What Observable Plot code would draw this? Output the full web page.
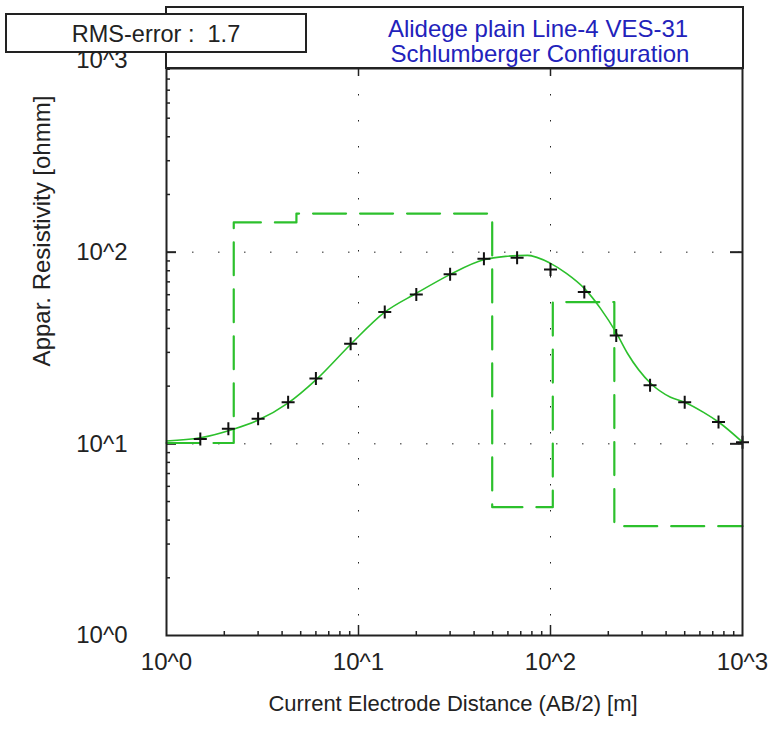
<!DOCTYPE html>
<html>
<head>
<meta charset="utf-8">
<script src="https://cdn.jsdelivr.net/npm/d3@7"></script>
<script src="https://cdn.jsdelivr.net/npm/@observablehq/plot@0.6"></script>
<style>
  html, body { margin: 0; padding: 0; background: #ffffff; }
  #wrap { position: relative; width: 768px; height: 740px; overflow: hidden; font-family: "Liberation Sans", Arial, sans-serif; color: #222; }
  #chart { position: absolute; left: 0; top: 0; }
  .box { position: absolute; box-sizing: border-box; border: 2px solid #222; background: #fff; }
  .txt { position: absolute; white-space: pre; text-align: center; line-height: 1; }
</style>
</head>
<body>
<div id="wrap">
  <div id="chart"></div>
  <div class="box" style="left:165px; top:6px; width:579px; height:63px; z-index:2;"></div>
  <div class="txt" style="left:338px; width:400px; top:17px; font-size:24px; color:#2222bb; z-index:3;">Alidege plain Line-4 VES-31</div>
  <div class="txt" style="left:340px; width:400px; top:42px; font-size:24px; color:#2222bb; z-index:3;">Schlumberger Configuration</div>
  <div class="box" style="left:5px; top:13px; width:302px; height:40px; z-index:4;"></div>
  <div class="txt" style="left:5px; width:302px; top:23px; font-size:23.5px; z-index:5;">RMS-error :  1.7</div>
  <div class="txt" style="left:153px; width:600px; top:693px; font-size:22px;">Current Electrode Distance (AB/2) [m]</div>
  <div class="txt" style="left:-158px; width:400px; top:219px; font-size:24px; transform: rotate(-90deg);">Appar. Resistivity [ohmm]</div>
</div>
<script>
// measured apparent resistivity (AB/2 in m, rho_a in ohm-m)
const abHalf = [1.5, 2.1, 3.0, 4.3, 6.0, 9.1, 13.7, 20, 30, 45, 67, 100, 150, 220, 330, 500, 750, 1000];
const rhoMeasured = [10.6, 12.0, 13.5, 16.5, 21.9, 33.3, 48.7, 60.2, 76.6, 92.5, 93.6, 81.1, 61.9, 36.8, 20.2, 16.5, 13.0, 10.2];

// calculated (fitted) curve
const fitX = [1, 1.5, 2.23, 3.01, 4.27, 6.04, 9.09, 13.65, 20.0, 30.1, 44.8, 58.3, 75.9, 100, 121, 150, 182, 221, 252, 332, 422, 499, 627, 750, 1000];
const fitY = [10.35, 10.76, 11.93, 13.3, 16.25, 21.7, 33.0, 48.5, 61.0, 76.6, 91.2, 95.1, 96.2, 87.4, 77.5, 64.7, 50.9, 37.7, 29.6, 20.7, 17.5, 16.5, 14.6, 13.0, 10.2];

// layered model: depth of layer top (m) and resistivity (ohm-m)
const layerDepth = [1, 2.24, 4.75, 49.7, 102.8, 215, 1000];
const layerRho = [10.1, 143, 159, 4.67, 54.9, 3.72, 3.72];

// axis ticks
const decadeTicks = [1, 10, 100, 1000];
const majorInner = [10, 100];
const minorTicks = [2,3,4,5,6,7,8,9,20,30,40,50,60,70,80,90,200,300,400,500,600,700,800,900];
const tickLabel = d => "10^" + Math.round(Math.log10(d));

const measured = abHalf.map((x, i) => ({x, y: rhoMeasured[i]}));
const fit = fitX.map((x, i) => ({x, y: fitY[i]}));
const model = layerDepth.map((x, i) => ({x, y: layerRho[i]}));

const W = 768, H = 740, mL = 166, mR = 26, mT = 60, mB = 105;
const iw = W - mL - mR, ih = H - mT - mB;
const hidden = 8; // top strip covered by header box
const ink = "#222";
const green = "#2cc02c";

const cross = {
  draw(context, size) {
    const r = Math.sqrt(size / Math.PI);
    context.moveTo(-r, 0); context.lineTo(r, 0);
    context.moveTo(0, -r); context.lineTo(0, r);
  }
};

const chart = Plot.plot({
  width: W, height: H,
  marginLeft: mL, marginRight: mR, marginTop: mT, marginBottom: mB,
  style: {fontFamily: "'Liberation Sans', Arial, sans-serif", fontSize: "24px", color: ink, background: "#fff"},
  x: {type: "log", domain: [1, 1000]},
  y: {type: "log", domain: [1, 1000]},
  marks: [
    Plot.frame({fill: "#fff", insetTop: hidden}),
    // dotted grid
    Plot.ruleX(majorInner, {x: d => d, stroke: ink, strokeDasharray: "1.5,24.5", insetTop: hidden}),
    Plot.ruleY(majorInner, {y: d => d, stroke: ink, strokeDasharray: "1.5,24.5"}),
    // ticks
    Plot.ruleX(minorTicks, {x: d => d, stroke: ink, strokeWidth: 1.5, insetTop: ih - 4}),
    Plot.ruleX(majorInner, {x: d => d, stroke: ink, strokeWidth: 1.5, insetTop: ih - 10}),
    Plot.ruleX(majorInner, {x: d => d, stroke: ink, strokeWidth: 1.5, insetTop: hidden, insetBottom: ih - hidden - 8}),
    Plot.ruleY(minorTicks, {y: d => d, stroke: ink, strokeWidth: 1.5, insetRight: iw - 4}),
    Plot.ruleY(majorInner, {y: d => d, stroke: ink, strokeWidth: 2, insetRight: iw - 10}),
    Plot.ruleY(majorInner, {y: d => d, stroke: ink, strokeWidth: 2, insetLeft: iw - 12}),
    // model and fit
    Plot.line(model, {x: "x", y: "y", curve: "step-after", stroke: green, strokeWidth: 2.2, strokeDasharray: "33,14"}),
    Plot.line(fit, {x: "x", y: "y", curve: "monotone-x", stroke: green, strokeWidth: 1.6}),
    Plot.dot(measured, {x: "x", y: "y", symbol: cross, r: 6.5, stroke: "#111", strokeWidth: 2, fill: "none"}),
    Plot.frame({stroke: ink, strokeWidth: 2, insetTop: hidden}),
    Plot.axisX({ticks: decadeTicks, tickFormat: tickLabel, tickSize: 0, tickPadding: 17, label: null, fill: ink}),
    Plot.axisY({ticks: decadeTicks, tickFormat: tickLabel, tickSize: 0, tickPadding: 39, label: null, fill: ink})
  ]
});
document.getElementById("chart").appendChild(chart);
</script>
</body>
</html>
